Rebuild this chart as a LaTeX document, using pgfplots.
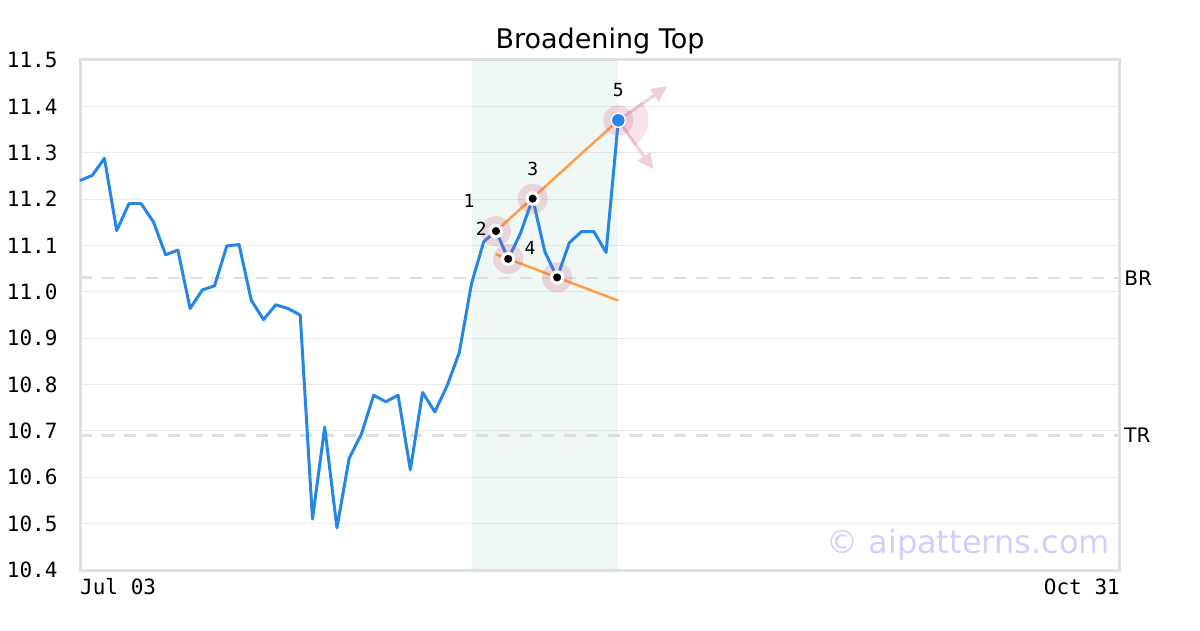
\documentclass[border=0pt]{standalone}
\usepackage{pgfplots}
\pgfplotsset{compat=1.18}
\usepackage{pgfplotstable}
\usepackage{fontspec}
\setmainfont{DejaVu Sans}
\newfontfamily\monofont{DejaVu Sans Mono}
\usetikzlibrary{arrows.meta}

\definecolor{lineblue}{RGB}{38,134,230}
\definecolor{trendorange}{RGB}{255,157,72}
\definecolor{framegray}{RGB}{224,224,224}
\definecolor{gridgray}{RGB}{234,234,234}
\definecolor{dashgray}{RGB}{222,222,222}
\definecolor{halopink}{RGB}{200,70,110}
\definecolor{arrowpink}{RGB}{241,208,218}
\definecolor{shadegreen}{RGB}{100,190,150}
\definecolor{wmark}{RGB}{208,208,255}

% closing prices, one row per trading day (0 = Jul 03)
\pgfplotstableread{
i v
0 11.240
1 11.251
2 11.288
3 11.132
4 11.190
5 11.190
6 11.151
7 11.080
8 11.090
9 10.964
10 11.004
11 11.013
12 11.099
13 11.102
14 10.982
15 10.940
16 10.972
17 10.964
18 10.950
19 10.510
20 10.708
21 10.491
22 10.641
23 10.693
24 10.777
25 10.763
26 10.777
27 10.616
28 10.783
29 10.741
30 10.797
31 10.869
32 11.018
33 11.108
34 11.131
35 11.071
36 11.126
37 11.201
38 11.086
39 11.031
40 11.106
41 11.130
42 11.130
43 11.085
44 11.370
}\prices

\begin{document}
\begin{tikzpicture}[x=1pt,y=1pt]
\useasboundingbox (0,0) rectangle (1200,630);
\begin{axis}[
    at={(80pt,60pt)}, anchor=south west,
    width=1040pt, height=510pt, scale only axis,
    xmin=0, xmax=85, ymin=10.4, ymax=11.5,
    xtick=\empty,
    ytick={10.4,10.5,10.6,10.7,10.8,10.9,11.0,11.1,11.2,11.3,11.4,11.5},
    ymajorgrids,
    grid style={gridgray, line width=1pt},
    axis line style={framegray, line width=3pt},
    major tick length=0pt,
    yticklabel style={font=\monofont\fontsize{21}{24}\selectfont, xshift=-19pt,
        /pgf/number format/fixed, /pgf/number format/fixed zerofill,
        /pgf/number format/precision=1, /pgf/number format/assume math mode=true},
    clip=false,
]
% pattern window
\addplot[draw=none, fill=shadegreen, fill opacity=0.1]
    coordinates {(32,10.4)(32,11.5)(44,11.5)(44,10.4)} -- cycle;

% support / resistance levels
\addplot[dashgray, line width=2.5pt, dash pattern=on 12pt off 10pt]
    coordinates {(0,11.03)(85,11.03)};
\addplot[dashgray, line width=2.5pt, dash pattern=on 12pt off 10pt]
    coordinates {(0,10.69)(85,10.69)};
\addplot[framegray, line width=3pt] coordinates {(0,11.03)(1,11.03)};
\addplot[framegray, line width=3pt] coordinates {(0,10.69)(1,10.69)};

% price
\addplot[lineblue, line width=3pt, line join=round] table[x=i, y=v] {\prices};

% trend lines
\addplot[trendorange, line width=2.5pt] coordinates {(34,11.131)(44,11.370)};
\addplot[trendorange, line width=2.5pt] coordinates {(34,11.081)(44,10.981)};

% breakout fan at point 5
\draw[arrowpink, line width=3pt, -{Triangle[length=16pt, width=15pt]}]
    (axis cs:44,11.37) -- ++(49pt,34pt);
\draw[arrowpink, line width=3pt, -{Triangle[length=16pt, width=15pt]}]
    (axis cs:44,11.37) -- ++(35pt,-49pt);
\fill[halopink, fill opacity=0.15] (axis cs:44,11.37) -- ++(-58:30pt) arc[start angle=-58, end angle=38, radius=30pt] -- cycle;

% pivot halos and markers
\addplot[only marks, mark=*, mark size=15pt, halopink, fill opacity=0.2, draw opacity=0]
    coordinates {(34,11.131)(35,11.071)(37,11.201)(39,11.031)(44,11.370)};
\addplot[only marks, mark=*, mark size=7pt, white]
    coordinates {(34,11.131)(35,11.071)(37,11.201)(39,11.031)};
\addplot[only marks, mark=*, mark size=3.8pt, black]
    coordinates {(34,11.131)(35,11.071)(37,11.201)(39,11.031)};
\addplot[only marks, mark=*, mark size=7.5pt, white]
    coordinates {(44,11.370)};
\addplot[only marks, mark=*, mark size=6pt, lineblue]
    coordinates {(44,11.370)};

% pivot numbers
\addplot[only marks, mark=none, nodes near coords, point meta=explicit symbolic,
    nodes near coords style={anchor=center, xshift=-27pt, yshift=30pt, text=black,
        font=\monofont\fontsize{18}{20}\selectfont}]
    coordinates {(34,11.131)[1] (35,11.071)[2] (39,11.031)[4]};
\addplot[only marks, mark=none, nodes near coords, point meta=explicit symbolic,
    nodes near coords style={anchor=center, yshift=30pt, text=black,
        font=\monofont\fontsize{18}{20}\selectfont}]
    coordinates {(37,11.201)[3] (44,11.370)[5]};

\node[anchor=west, xshift=1pt, font=\fontsize{20}{24}\selectfont] at (axis cs:85,11.03) {BR};
\node[anchor=west, xshift=1pt, font=\fontsize{20}{24}\selectfont] at (axis cs:85,10.69) {TR};
\end{axis}

\node[anchor=base, font=\fontsize{27}{30}\selectfont] at (600,581) {Broadening Top};
\node[anchor=base west, inner sep=0pt, font=\monofont\fontsize{21}{24}\selectfont] at (80,35.5) {Jul 03};
\node[anchor=base east, inner sep=0pt, font=\monofont\fontsize{21}{24}\selectfont] at (1120,35.5) {Oct 31};
\node[anchor=base east, inner sep=0pt, text=wmark, font=\fontsize{32}{36}\selectfont] at (1110,77) {\textcopyright{} aipatterns.com};
\end{tikzpicture}
\end{document}
